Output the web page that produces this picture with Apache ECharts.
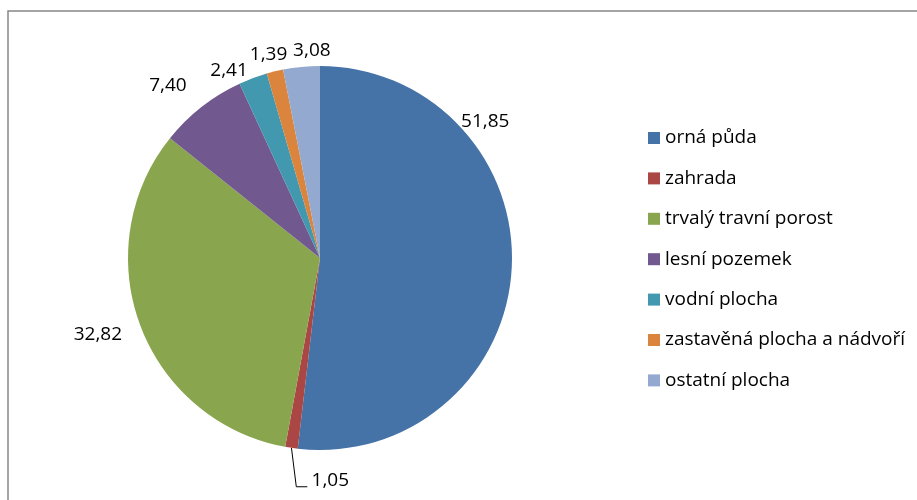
<!DOCTYPE html>
<html>
<head>
<meta charset="utf-8">
<script src="https://cdn.jsdelivr.net/npm/echarts@6/dist/echarts.min.js"></script>
<style>
  html, body { margin: 0; padding: 0; background: #fff; }
  #chart { width: 917px; height: 500px; }
</style>
</head>
<body>
<div id="chart"></div>
<script>
// categories and values (percent)
const categories = ['orná půda', 'zahrada', 'trvalý travní porost', 'lesní pozemek', 'vodní plocha', 'zastavěná plocha a nádvoří', 'ostatní plocha']
const values = [51.85, 1.05, 32.82, 7.40, 2.41, 1.39, 3.08]
const colors = ['#4572A7', '#AA4643', '#89A54E', '#71588F', '#4198AF', '#DB843D', '#93A9CF']

// pie geometry
const cx = 320
const cy = 258
const r = 192
// label placement: angle shift from slice middle (deg) and distance from centre (px)
const labelShift = [-42.8, -11.2, 1.4, -3.3, -5.5, -0.6, 3.3]
const labelDist = [214, 223, 235, 230, 208, 210, 208]

const total = values.reduce((a, b) => a + b, 0)
let acc = 0
const midAngles = values.map(v => {
  let m = (acc + v / 2) / total * 360
  acc += v
  return m
})
function polar (deg, d) {
  let a = deg * Math.PI / 180
  return [cx + d * Math.sin(a), cy - d * Math.cos(a)]
}

const fontFamily = '"Open Sans", "Liberation Sans", sans-serif'

let seriesData = categories.map((name, i) => ({
  name: name,
  value: values[i],
  labelLine: { show: i === 1 }
}))

let option = {
  animation: false,
  color: colors,
  graphic: [{
    type: 'rect',
    shape: { x: 8, y: 11, width: 1200, height: 1000 },
    style: { fill: 'none', stroke: '#878787', lineWidth: 1.5 },
    silent: true
  }],
  legend: {
    orient: 'vertical',
    left: 643,
    top: 122,
    icon: 'rect',
    itemWidth: 12,
    itemHeight: 12,
    itemGap: 18.4,
    textStyle: {
      fontFamily: fontFamily,
      fontSize: 19,
      lineHeight: 22,
      color: '#000'
    },
    data: categories
  },
  series: [{
    type: 'pie',
    center: [cx, cy],
    radius: r,
    startAngle: 90,
    clockwise: true,
    avoidLabelOverlap: false,
    label: {
      show: true,
      position: 'outside',
      fontFamily: fontFamily,
      fontSize: 19,
      color: '#000',
      formatter: p => p.value.toFixed(2).replace('.', ',')
    },
    labelLine: {
      show: false,
      lineStyle: { color: '#000', width: 1 }
    },
    labelLayout: function (params) {
      let i = params.dataIndex
      let pos = polar(midAngles[i] + labelShift[i], labelDist[i])
      let res = { x: pos[0], y: pos[1], align: 'center', verticalAlign: 'middle' }
      if (i === 1) {
        let edge = polar(midAngles[i], r)
        res.labelLinePoints = [edge, [pos[0] - 34, pos[1] + 6], [pos[0] - 23, pos[1] + 6]]
      }
      return res
    },
    emphasis: { disabled: true },
    data: seriesData
  }]
}

let myChart = echarts.init(document.getElementById('chart'), null, { renderer: 'canvas' })
myChart.setOption(option)
</script>
</body>
</html>
